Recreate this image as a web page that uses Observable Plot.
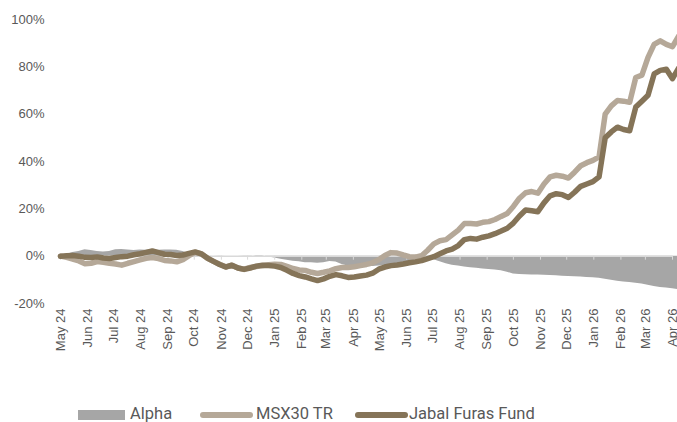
<!DOCTYPE html>
<html>
<head>
<meta charset="utf-8">
<script src="https://cdn.jsdelivr.net/npm/d3@7"></script>
<script src="https://cdn.jsdelivr.net/npm/@observablehq/plot@0.6"></script>
<style>
  html, body { margin: 0; padding: 0; background: #fff; }
  #wrap { position: relative; width: 677px; height: 422px; overflow: hidden; }
  #chart { position: absolute; left: 0; top: 0; }
  .lg { position: absolute; font-family: Roboto, "Liberation Sans", sans-serif; font-size: 16.5px; line-height: 16px; color: #595959; white-space: nowrap; }
  .sw { position: absolute; }
</style>
</head>
<body>
<div id="wrap">
  <div id="chart"></div>
  <div class="sw" style="left:78px;top:410px;width:47px;height:10px;background:#a6a6a6;"></div>
  <div class="lg" style="left:130px;top:406px;">Alpha</div>
  <div class="sw" style="left:200px;top:412px;width:53px;height:6px;border-radius:3px;background:#b5a898;"></div>
  <div class="lg" style="left:256px;top:406px;">MSX30 TR</div>
  <div class="sw" style="left:355px;top:412px;width:53px;height:6px;border-radius:3px;background:#857458;"></div>
  <div class="lg" style="left:409px;top:406px;">Jabal Furas Fund</div>
</div>
<script>
// Weekly observations starting 2024-05-01
const startDate = "2024-05-01";
const fund = [0,0.2,0.3,0,-0.5,-0.6,-0.3,-0.8,-1.0,-0.6,
  -0.2,0,0.6,1.0,1.6,2.2,1.5,0.8,0.7,0.3,
  0.5,1.2,1.8,1.0,-0.8,-2.2,-3.5,-4.6,-3.8,-5.0,
  -5.6,-5.0,-4.2,-3.8,-3.9,-4.2,-4.8,-6.0,-7.3,-8.2,
  -8.8,-9.6,-10.3,-9.6,-8.5,-7.8,-8.3,-9.0,-8.8,-8.4,
  -8.0,-7.2,-5.5,-4.6,-4.0,-3.7,-3.3,-2.8,-2.4,-1.9,
  -1.0,-0.2,1.0,2.2,3.0,4.5,7.0,7.5,7.2,8.0,
  8.6,9.5,10.6,11.8,14.0,17.0,19.5,19.2,18.8,22.5,
  25.5,26.4,26.0,24.8,27.0,29.5,30.5,31.5,33.5,50.0,
  52.5,54.5,53.5,53.0,63.0,65.5,68.0,77.0,78.5,79.0,
  75.0,79.5];
const msx = [0,-0.5,-1.2,-2.0,-3.2,-3.0,-2.3,-2.6,-3.0,-3.3,
  -3.8,-3.0,-2.3,-1.6,-0.9,-0.6,-1.0,-1.8,-2.0,-2.4,
  -1.5,0.2,1.6,1.0,-0.9,-2.2,-3.4,-4.5,-3.8,-5.0,
  -5.5,-4.8,-4.4,-4.0,-3.6,-3.4,-3.5,-4.3,-5.2,-5.8,
  -6.0,-6.8,-7.3,-6.8,-6.2,-5.3,-4.8,-4.8,-4.5,-4.0,
  -3.5,-2.8,-1.5,0.3,1.5,1.3,0.5,-0.2,-0.4,0.2,
  2.5,5.2,6.5,7.0,9.0,11.0,13.8,13.8,13.6,14.3,
  14.6,15.5,16.8,18.0,21.0,24.5,26.8,27.3,26.6,30.5,
  33.5,34.2,33.8,33.0,35.5,38.2,39.5,40.5,42.0,60.0,
  63.5,65.8,65.5,65.0,75.5,76.5,84.0,89.5,91.0,89.5,
  88.5,93.0];
const alpha = [0,0.7,1.5,2.0,2.7,2.4,2.0,1.8,2.0,2.7,
  2.8,2.6,2.4,2.6,2.5,2.8,2.5,2.6,2.6,2.5,
  2.0,1.0,0.3,0,0.1,0,-0.1,0,0,0,
  -0.1,-0.2,0.2,0.2,-0.3,-0.8,-1.3,-1.7,-2.1,-2.4,
  -2.8,-2.8,-3.0,-2.8,-2.3,-2.5,-3.5,-4.2,-4.3,-4.4,
  -4.5,-4.4,-4.2,-4.0,-3.8,-3.6,-3.2,-2.7,-2.3,-1.9,
  -1.6,-1.5,-2.4,-3.2,-3.8,-4.2,-4.6,-4.9,-5.1,-5.4,
  -5.6,-5.8,-6.2,-6.8,-7.5,-7.7,-7.8,-8.0,-8.0,-8.1,
  -8.2,-8.3,-8.5,-8.6,-8.7,-8.8,-9.0,-9.1,-9.3,-9.8,
  -10.2,-10.6,-10.9,-11.1,-11.4,-11.8,-12.3,-12.8,-13.2,-13.5,
  -13.8,-14.2];
const yTicks = [-20, 0, 20, 40, 60, 80, 100];
const monthTicks = ["2024-05-01","2024-06-01","2024-07-01","2024-08-01","2024-09-01","2024-10-01",
  "2024-11-01","2024-12-01","2025-01-01","2025-02-01","2025-03-01","2025-04-01",
  "2025-05-01","2025-06-01","2025-07-01","2025-08-01","2025-09-01","2025-10-01",
  "2025-11-01","2025-12-01","2026-01-01","2026-02-01","2026-03-01","2026-04-01"];

const t0 = new Date(startDate + "T00:00:00Z");
const data = fund.map((f, i) => ({
  date: d3.utcDay.offset(t0, 7 * i),
  fund: f, msx: msx[i], alpha: alpha[i]
}));
const ticks = monthTicks.map(s => new Date(s + "T00:00:00Z"));

const chart = Plot.plot({
  width: 677,
  height: 370,
  marginLeft: 60,
  marginRight: 5,
  marginTop: 19,
  marginBottom: 67,
  style: { fontFamily: "'Liberation Sans', Arial, sans-serif", fontSize: "13px", color: "#595959", background: "transparent" },
  x: { type: "utc", domain: [ticks[0], ticks[ticks.length - 1]] },
  y: { domain: [-20, 100] },
  marks: [
    Plot.areaY(data, { x: "date", y: "alpha", fill: "#a6a6a6" }),
    Plot.ruleY([0], { stroke: "#d9d9d9", strokeWidth: 1.5 }),
    Plot.ruleX(ticks, { x: d => d, y1: 0, y2: -1.7, stroke: "#d9d9d9", strokeWidth: 1 }),
    Plot.lineY(data, { x: "date", y: "msx", stroke: "#b5a898", strokeWidth: 5.5, strokeLinejoin: "round", strokeLinecap: "round" }),
    Plot.lineY(data, { x: "date", y: "fund", stroke: "#857458", strokeWidth: 5.5, strokeLinejoin: "round", strokeLinecap: "round" }),
    Plot.axisY({ ticks: yTicks, tickFormat: d => d + "%", tickSize: 0, tickPadding: 16, label: null }),
    Plot.axisX({ ticks: ticks, tickFormat: d3.utcFormat("%b %y"), tickSize: 0, tickPadding: 5, tickRotate: -90, label: null })
  ]
});
document.getElementById("chart").appendChild(chart);
</script>
</body>
</html>
